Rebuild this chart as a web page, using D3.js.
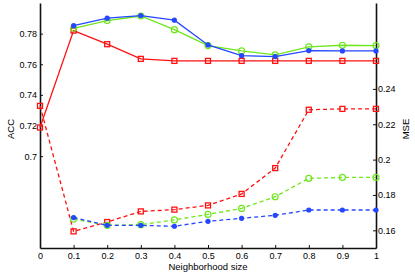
<!DOCTYPE html>
<html>
<head>
<meta charset="utf-8">
<script src="https://cdn.jsdelivr.net/npm/d3@7"></script>
<style>
  body { margin: 0; background: #fff; }
  svg text { font-family: 'Liberation Sans', Arial, sans-serif; fill: #000; }
</style>
</head>
<body>
<div id="chart"></div>
<script>
// x values
const sizesAll = [0, 0.1, 0.2, 0.3, 0.4, 0.5, 0.6, 0.7, 0.8, 0.9, 1]
const sizesFrom01 = [0.1, 0.2, 0.3, 0.4, 0.5, 0.6, 0.7, 0.8, 0.9, 1]

// ACC (left axis, solid lines)
const accRed = [0.7187, 0.782, 0.7731, 0.7635, 0.7622, 0.7622, 0.7622, 0.7622, 0.7622, 0.7622, 0.7622]
const accGreen = [0.7835, 0.7885, 0.7915, 0.7826, 0.7722, 0.7687, 0.7661, 0.7713, 0.7724, 0.7722]
const accBlue = [0.7852, 0.7901, 0.7918, 0.7888, 0.7726, 0.7656, 0.765, 0.7689, 0.7687, 0.7687]

// MSE (right axis, dashed lines)
const mseRed = [0.2304, 0.1594, 0.1647, 0.1707, 0.1717, 0.1741, 0.1806, 0.1952, 0.2282, 0.2287, 0.2287]
const mseGreen = [0.1664, 0.1628, 0.1632, 0.1659, 0.169, 0.1724, 0.179, 0.1894, 0.1899, 0.1899]
const mseBlue = [0.1672, 0.1628, 0.1628, 0.1623, 0.1651, 0.1668, 0.1685, 0.1715, 0.1715, 0.1715]

// tick labels
const xTicks = [0, 0.1, 0.2, 0.3, 0.4, 0.5, 0.6, 0.7, 0.8, 0.9, 1]
const accTicks = [0.7, 0.72, 0.74, 0.76, 0.78]
const mseTicks = [0.16, 0.18, 0.2, 0.22, 0.24]

const margin = { top: 3, right: 39, bottom: 29, left: 40 }
const width = 415 - margin.left - margin.right
const height = 277 - margin.top - margin.bottom

const red = '#ff1111'
const green = '#6fe61c'
const blue = '#2447ff'

const svg = d3
  .select('#chart')
  .append('svg')
  .attr('width', 415)
  .attr('height', 277)
  .append('g')
  .attr('transform', 'translate(' + margin.left + ',' + margin.top + ')')

const xPositionScale = d3.scaleLinear().domain([0, 1]).range([0, width])
const accScale = d3.scaleLinear().domain([0.64, 0.8]).range([height, 0])
const mseScale = d3.scaleLinear().domain([0.15, 0.2886]).range([height, 0])

const fmt = d3.format('~g')

const xAxis = d3.axisBottom(xPositionScale)
  .tickValues(xTicks).tickFormat(fmt)
  .tickSizeInner(-3).tickSizeOuter(0).tickPadding(5)
const yAxisLeft = d3.axisLeft(accScale)
  .tickValues(accTicks).tickFormat(fmt)
  .tickSizeInner(-3).tickSizeOuter(0).tickPadding(3)
const yAxisRight = d3.axisRight(mseScale)
  .tickValues(mseTicks).tickFormat(fmt)
  .tickSizeInner(-3).tickSizeOuter(0).tickPadding(2)

function styleAxis(g) {
  g.selectAll('path.domain').attr('stroke', '#111').attr('stroke-width', 1.6)
  g.selectAll('.tick line').attr('stroke', '#111')
  g.selectAll('.tick text').attr('font-size', 9).attr('fill', '#000')
  g.attr('font-family', null)
}

svg.append('g')
  .attr('class', 'axis x-axis')
  .attr('transform', 'translate(0,' + height + ')')
  .call(xAxis)
  .call(styleAxis)

svg.append('g')
  .attr('class', 'axis y-axis')
  .call(yAxisLeft)
  .call(styleAxis)

svg.append('g')
  .attr('class', 'axis y-axis-right')
  .attr('transform', 'translate(' + width + ',0)')
  .call(yAxisRight)
  .call(styleAxis)

// axis titles
svg.append('text')
  .attr('x', width / 2)
  .attr('y', height + 22)
  .attr('text-anchor', 'middle')
  .attr('font-size', 9.5)
  .text('Neighborhood size')

svg.append('text')
  .attr('transform', 'translate(' + (-26) + ',' + 126 + ') rotate(-90)')
  .attr('text-anchor', 'middle')
  .attr('font-size', 9.5)
  .text('ACC')

svg.append('text')
  .attr('transform', 'translate(' + (width + 33) + ',' + 126 + ') rotate(-90)')
  .attr('text-anchor', 'middle')
  .attr('font-size', 9.5)
  .text('MSE')

function drawSeries(xs, ys, yScale, color, dashed, marker) {
  const pts = xs.map((x, i) => ({ x: x, y: ys[i] }))
  const line = d3.line()
    .x(d => xPositionScale(d.x))
    .y(d => yScale(d.y))

  svg.append('path')
    .datum(pts)
    .attr('d', line)
    .attr('fill', 'none')
    .attr('stroke', color)
    .attr('stroke-width', 1.3)
    .attr('stroke-dasharray', dashed ? '4,3' : null)

  const g = svg.append('g')
  if (marker === 'square') {
    g.selectAll('rect')
      .data(pts)
      .enter()
      .append('rect')
      .attr('x', d => xPositionScale(d.x) - 2.5)
      .attr('y', d => yScale(d.y) - 2.5)
      .attr('width', 5)
      .attr('height', 5)
      .attr('fill', 'none')
      .attr('stroke', color)
      .attr('stroke-width', 1.3)
  } else if (marker === 'open') {
    g.selectAll('circle')
      .data(pts)
      .enter()
      .append('circle')
      .attr('cx', d => xPositionScale(d.x))
      .attr('cy', d => yScale(d.y))
      .attr('r', 3)
      .attr('fill', 'none')
      .attr('stroke', color)
      .attr('stroke-width', 1.2)
  } else {
    g.selectAll('circle')
      .data(pts)
      .enter()
      .append('circle')
      .attr('cx', d => xPositionScale(d.x))
      .attr('cy', d => yScale(d.y))
      .attr('r', 2.6)
      .attr('fill', color)
  }
}

// solid ACC lines
drawSeries(sizesAll, accRed, accScale, red, false, 'square')
drawSeries(sizesFrom01, accGreen, accScale, green, false, 'open')
drawSeries(sizesFrom01, accBlue, accScale, blue, false, 'dot')

// dashed MSE lines
drawSeries(sizesAll, mseRed, mseScale, red, true, 'square')
drawSeries(sizesFrom01, mseGreen, mseScale, green, true, 'open')
drawSeries(sizesFrom01, mseBlue, mseScale, blue, true, 'dot')
</script>
</body>
</html>
